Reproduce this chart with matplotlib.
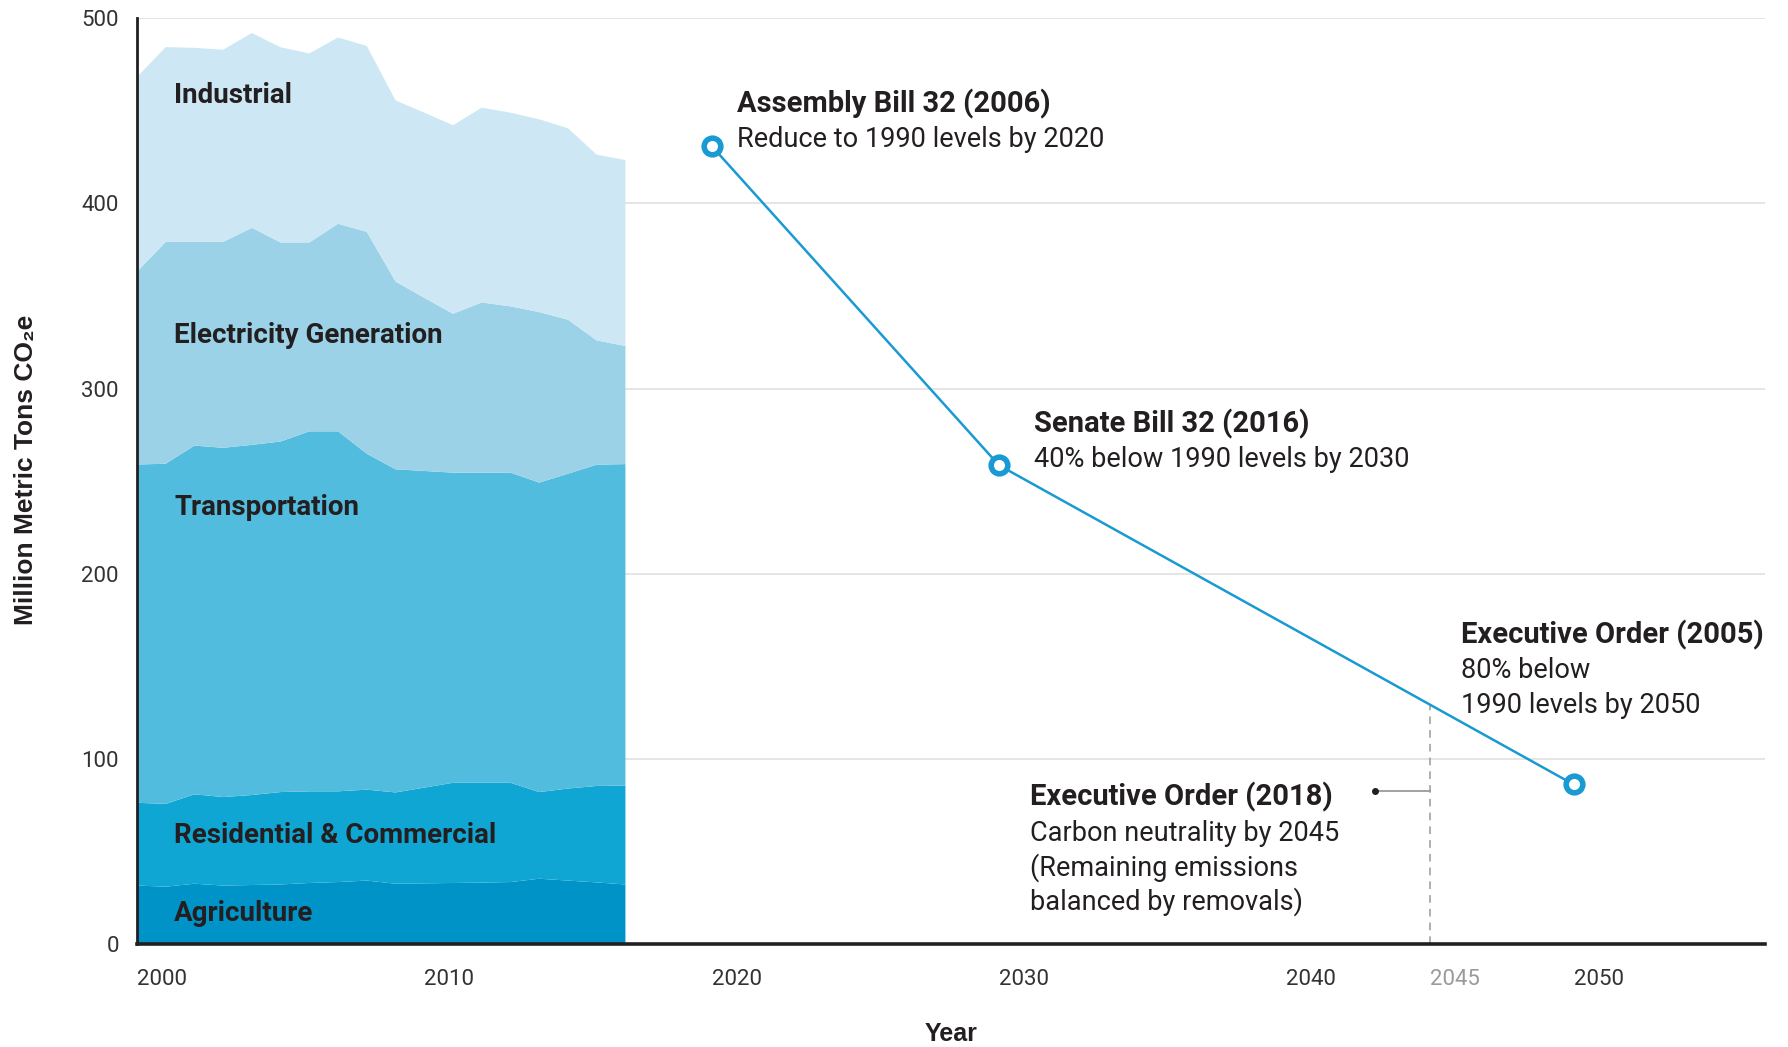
import numpy as np
import matplotlib
matplotlib.use("Agg")
import matplotlib.pyplot as plt

# ---------------- data ----------------
years = list(range(2000, 2018))
agriculture = [31.6, 31.0, 32.6, 31.6, 31.9, 32.2, 33.0, 33.5, 34.3, 32.6, 32.8, 33.0, 33.2, 33.5, 35.3, 34.3, 33.3, 32.2]
residential = [44.7, 44.7, 48.3, 47.8, 48.6, 49.9, 49.5, 49.0, 49.1, 49.3, 51.7, 54.1, 53.9, 53.6, 46.8, 49.7, 52.1, 53.4]
transportation = [182.7, 183.7, 188.3, 188.6, 189.1, 189.3, 194.4, 194.4, 181.4, 174.5, 171.0, 167.5, 167.5, 167.5, 167.1, 170.0, 173.5, 173.6]
electricity = [104.1, 119.8, 110.0, 111.2, 117.2, 107.5, 102.0, 112.1, 119.8, 101.4, 93.5, 85.8, 91.9, 89.8, 92.1, 83.2, 67.1, 63.8]
industrial = [105.1, 105.2, 104.8, 103.8, 105.2, 105.4, 102.1, 100.6, 100.4, 97.8, 100.0, 101.8, 105.2, 104.6, 104.1, 103.4, 100.3, 100.4]
sector_names = ["Agriculture", "Residential & Commercial", "Transportation",
                "Electricity Generation", "Industrial"]
sector_colors = ["#0093C8", "#10A6D3", "#52BCDE", "#9BD2E7", "#CDE8F4"]
sector_label_y = [16.5, 58.5, 235.5, 328.5, 458.5]

target_years = [2020, 2030, 2050]
target_values = [431, 258.6, 86.2]
target_titles = ["Assembly Bill 32 (2006)", "Senate Bill 32 (2016)", "Executive Order (2005)"]
target_texts = ["Reduce to 1990 levels by 2020", "40% below 1990 levels by 2030",
                "80% below\n1990 levels by 2050"]
target_text_pos = [(2020.87, 453.8), (2031.23, 281.0), (2046.07, 167.0)]

neutral_year = 2045
eo2018_title = "Executive Order (2018)"
eo2018_text = "Carbon neutrality by 2045\n(Remaining emissions\nbalanced by removals)"
eo2018_pos = (2031.07, 79.4)
eo2018_marker = (2043.1, 82.5)

xticks = [2000, 2010, 2020, 2030, 2040, 2045, 2050]
yticks = [0, 100, 200, 300, 400, 500]

# ---------------- style ----------------
FONT = ["Roboto", "DejaVu Sans"]
DARK = "#231F20"
LINE = "#1A9AD3"
TITLE_GAP = 19.5   # data units between title and first body line
LINE_GAP = 18.5    # data units between body lines

fig = plt.figure(figsize=(17.88, 10.47), dpi=100)
ax = fig.add_axes([0.0766, 0.0983, 0.9107, 0.8843])

ax.set_xlim(2000, 2056.67)
ax.set_ylim(0, 500)

# grid
for yv in yticks[1:]:
    ax.axhline(yv, color="#E3E3E3", lw=1.3, zorder=0)

ax.stackplot(years, agriculture, residential, transportation, electricity, industrial,
             colors=sector_colors, linewidth=0, zorder=2)

for name, yv in zip(sector_names, sector_label_y):
    ax.text(2001.3, yv, name, fontsize=20, fontweight="bold", color=DARK,
            family=FONT, va="center", ha="left", zorder=5)

# target line
ax.plot(target_years, target_values, color=LINE, lw=1.8, zorder=4,
        marker="o", ms=12, mfc="white", mec=LINE, mew=4.0)

# 2045 dashed
v2045 = np.interp(neutral_year, target_years, target_values)
ax.plot([neutral_year, neutral_year], [0, v2045], color="#9A9A9A", lw=1.1,
        ls=(0, (5, 4)), zorder=3)
ax.plot([eo2018_marker[0], neutral_year], [eo2018_marker[1]] * 2, color="#9A9A9A",
        lw=1.3, zorder=3)
ax.plot([eo2018_marker[0]], [eo2018_marker[1]], marker="o", ms=4, color=DARK, zorder=4)


def block(x, y, title, body):
    ax.text(x, y, title, fontsize=21, fontweight="bold", color=DARK, family=FONT,
            va="center", ha="left")
    for i, line in enumerate(body.split("\n")):
        ax.text(x, y - TITLE_GAP - i * LINE_GAP, line, fontsize=19.5, color=DARK,
                family=FONT, va="center", ha="left")


for (tx, ty), title, txt in zip(target_text_pos, target_titles, target_texts):
    block(tx, ty, title, txt)
block(eo2018_pos[0], eo2018_pos[1], eo2018_title, eo2018_text)

# axes styling
for s in ["top", "right"]:
    ax.spines[s].set_visible(False)
ax.spines["left"].set_color(DARK)
ax.spines["left"].set_linewidth(2)
ax.spines["bottom"].set_color(DARK)
ax.spines["bottom"].set_linewidth(2.6)
ax.spines["left"].set_zorder(6)
ax.spines["bottom"].set_zorder(6)

ax.set_yticks(yticks)
ax.set_yticklabels([str(v) for v in yticks], family=FONT, fontsize=16, color="#333333")
ax.set_xticks(xticks)
ax.set_xticklabels([str(v) for v in xticks], family=FONT, fontsize=16, color="#333333",
                   ha="left")
for lbl in ax.get_xticklabels():
    if lbl.get_text() == "2045":
        lbl.set_color("#9A9A9A")
ax.tick_params(axis="both", length=0)
ax.tick_params(axis="y", pad=13)
ax.tick_params(axis="x", pad=18)

ax.set_xlabel("Year", family=["Liberation Sans", "DejaVu Sans"], fontsize=18,
              fontweight="bold", color=DARK, va="center")
ax.xaxis.set_label_coords(0.5, -0.0976)
ax.set_ylabel("Million Metric Tons CO\u2082e", family=["Liberation Sans", "DejaVu Sans"],
              fontsize=19, fontweight="bold", color=DARK, va="center")
ax.yaxis.set_label_coords(-0.068, 0.512)

fig.savefig("out.png", dpi=100, facecolor="white")
